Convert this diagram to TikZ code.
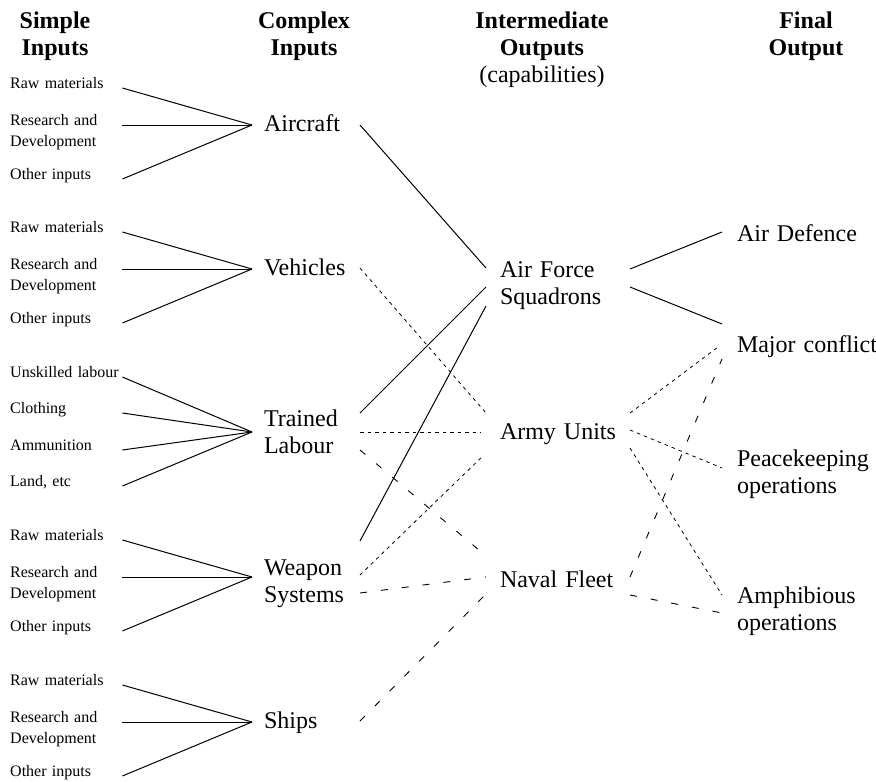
\documentclass[tikz,border=0pt]{standalone}
\usepackage{fontspec}
\setmainfont{Liberation Serif}
\usetikzlibrary{positioning}

\begin{document}
\begin{tikzpicture}[x=1pt,y=-1pt]
    \tikzstyle{every node}=[inner sep=0pt, align=left, anchor=base west]
    \tikzstyle{head}=[font=\bfseries\fontsize{24}{27}\selectfont, text width=140pt, align=center, anchor=base]
    \tikzstyle{simple}=[font=\fontsize{16}{21}\selectfont, text width=112pt]
    \tikzstyle{complex}=[font=\fontsize{24}{27}\selectfont, text width=84pt, outer xsep=12pt]
    \tikzstyle{inter}=[font=\fontsize{24}{27}\selectfont, text width=116pt, outer xsep=14pt]
    \tikzstyle{final}=[font=\fontsize{24}{27}\selectfont, text width=140pt, outer xsep=15pt]
    \tikzstyle{link}=[line width=1pt]
    \tikzstyle{fine link}=[line width=0.8pt, dash pattern=on 3.5pt off 4pt]
    \tikzstyle{long link}=[line width=0.9pt, dash pattern=on 7pt off 14pt]

    \useasboundingbox (0,0) rectangle (876,782);

    % Column headings
    \node[head, text width=100pt] (H-1) at (55,28) {Simple\\Inputs};
    \node[head] (H-2) at (304,28) {Complex\\Inputs};
    \node[head] (H-3) at (542,28) {Intermediate\\Outputs\\\mdseries(capabilities)};
    \node[head] (H-4) at (806,28) {Final\\Output};

    % Complex inputs
    \node[complex] (C-1) at (252,131) {Aircraft};
    \node[complex] (C-2) at (252,275) {Vehicles};
    \node[complex] (C-3) at (252,426) {Trained\\Labour};
    \node[complex] (C-4) at (252,575) {Weapon\\Systems};
    \node[complex] (C-5) at (252,728) {Ships};

    % Intermediate outputs
    \node[inter] (M-1) at (486,277) {Air Force\\Squadrons};
    \node[inter] (M-2) at (486,439) {Army Units};
    \node[inter] (M-3) at (486,587) {Naval Fleet};

    % Final output
    \node[final] (F-1) at (722,241) {Air Defence};
    \node[final] (F-2) at (722,352) {Major conflict};
    \node[final] (F-3) at (722,466) {Peacekeeping\\operations};
    \node[final] (F-4) at (722,603) {Amphibious\\operations};

    % Simple inputs of the material groups
    \foreach \g/\y/\d in {1/125/6, 2/269/6, 4/577/-2, 5/722/6} {
        \node[simple] (S-\g-1) at (10,\y-37) {Raw materials};
        \node[simple] (S-\g-2) at (10,\y) {Research and\\Development};
        \node[simple] (S-\g-3) at (10,\y+54) {Other inputs};
        \foreach \s in {1,2,3}
            \draw[link] (S-\g-\s.base east) -- ([yshift=\d]C-\g.base west);
    }

    % Simple inputs of the labour group
    \node[simple] (S-3-1) at (10,377) {Unskilled labour};
    \node[simple] (S-3-2) at (10,413) {Clothing};
    \node[simple] (S-3-3) at (10,450) {Ammunition};
    \node[simple] (S-3-4) at (10,486) {Land, etc};
    \foreach \s in {1,...,4}
        \draw[link] (S-3-\s.base east) -- ([yshift=-6]C-3.base west);

    % Complex inputs to capabilities
    \draw[link] ([yshift=6]C-1.base east) -- ([yshift=9]M-1.base west);
    \draw[link] ([yshift=13]C-3.base east) -- ([yshift=-10]M-1.base west);
    \draw[link] ([yshift=34]C-4.base east) -- ([yshift=-29]M-1.base west);
    \draw[fine link] ([yshift=7]C-2.base east) -- ([yshift=26]M-2.base west);
    \draw[fine link, shorten >=5pt] ([yshift=-6]C-3.base east) -- ([yshift=7]M-2.base west);
    \draw[fine link, shorten >=3pt] (C-4.base east) -- ([yshift=-14]M-2.base west);
    \draw[long link] ([yshift=-24]C-3.base east) -- ([yshift=31]M-3.base west);
    \draw[long link] ([yshift=-18]C-4.base east) -- ([yshift=10]M-3.base west);
    \draw[long link] ([yshift=7]C-5.base east) -- ([yshift=-7]M-3.base west);

    % Capabilities to final output
    \draw[link] ([yshift=8]M-1.base east) -- ([yshift=9]F-1.base west);
    \draw[link] ([yshift=-10]M-1.base east) -- ([yshift=28]F-2.base west);
    \draw[fine link, shorten >=4pt] ([yshift=26]M-2.base east) -- ([yshift=8]F-2.base west);
    \draw[fine link] ([yshift=9]M-2.base east) -- ([yshift=-2]F-3.base west);
    \draw[fine link] ([yshift=-9]M-2.base east) -- ([yshift=8]F-4.base west);
    \draw[long link] ([yshift=10]M-3.base east) -- ([yshift=-7]F-2.base west);
    \draw[long link] ([yshift=-8]M-3.base east) -- ([yshift=-10]F-4.base west);
\end{tikzpicture}
\end{document}
